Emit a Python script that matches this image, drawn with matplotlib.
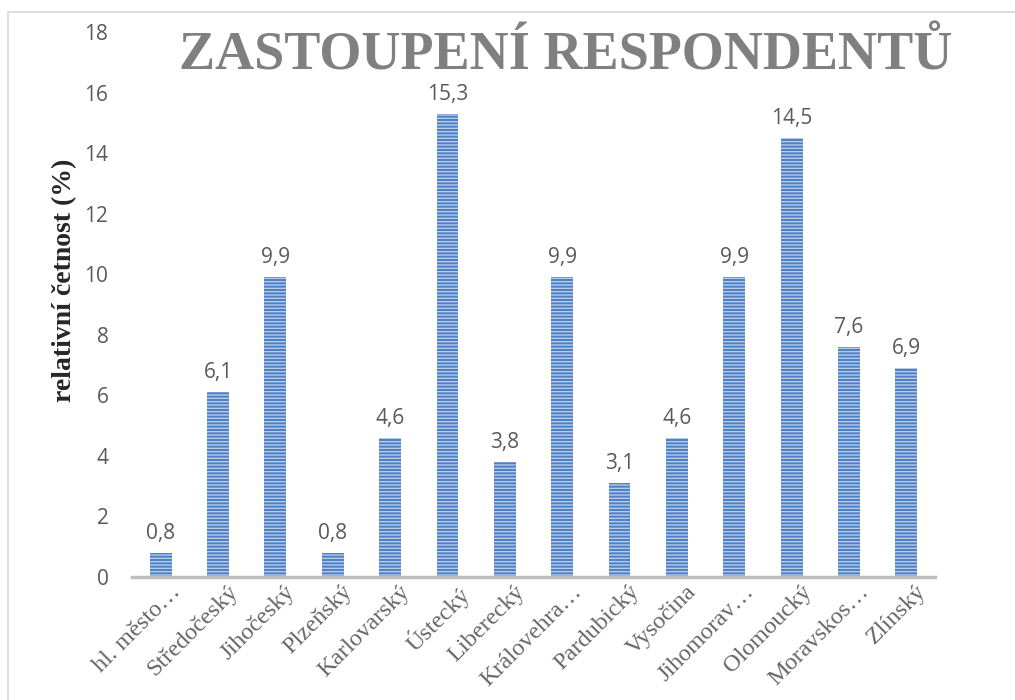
import matplotlib
matplotlib.use("Agg")
import matplotlib.pyplot as plt
import matplotlib.patches as mpatches
import matplotlib.transforms as mtrans
import numpy as np

# data
regions = ["hl. město…", "Středočeský", "Jihočeský", "Plzeňský", "Karlovarský",
           "Ústecký", "Liberecký", "Královehra…", "Pardubický", "Vysočina",
           "Jihomorav…", "Olomoucký", "Moravskos…", "Zlínský"]
values = [0.8, 6.1, 9.9, 0.8, 4.6, 15.3, 3.8, 9.9, 3.1, 4.6, 9.9, 14.5, 7.6, 6.9]
yticks = [0, 2, 4, 6, 8, 10, 12, 14, 16, 18]

# colours
C_BAR = "#4F7FC4"
C_HATCH = "#B4CBEA"
C_TEXT = "#595959"
C_AXIS = "#BFBFBF"
C_TITLE = "#808080"

plt.rcParams["hatch.linewidth"] = 1.0

fig = plt.figure(figsize=(10.15, 7.0), dpi=100)
ax = fig.add_axes([132 / 1015, 1 - 577 / 700, (935 - 132) / 1015, (577 - 32) / 700])

# outer frame of the chart area
fig.patches.append(mpatches.Rectangle((8 / 1015, -0.05), 1.2, 1 - 12 / 700 + 0.05,
                                      transform=fig.transFigure, fill=False,
                                      edgecolor="#D9D9D9", lw=1.2, zorder=0))

x = np.arange(len(regions))
ax.bar(x, values, width=0.38, color=C_BAR, edgecolor=C_HATCH,
       linewidth=0, hatch="-----", zorder=2)

for xi, v in zip(x, values):
    ax.text(xi, v + 0.3, f"{v:.1f}".replace(".", ","), ha="center", va="bottom",
            fontsize=15, color=C_TEXT, family="Open Sans")

ax.set_xlim(-0.5, len(regions) - 0.5)
ax.set_ylim(0, 18)
ax.set_yticks(yticks)
ax.set_yticklabels([str(t) for t in yticks], fontsize=15, color=C_TEXT,
                   family="Open Sans")
ax.tick_params(axis="y", length=0, pad=17)
ax.tick_params(axis="x", length=0, pad=3)
ax.set_xticks(x)
ax.set_xticklabels(regions, rotation=45, ha="right", rotation_mode="anchor",
                   fontsize=17.5, color="#666666", family="Liberation Serif")
# shift labels slightly right so their ends sit past the bar centre
offset = mtrans.ScaledTranslation(9 / 100, 0, fig.dpi_scale_trans)
for lbl in ax.get_xticklabels():
    lbl.set_transform(lbl.get_transform() + offset)

for s in ["top", "right", "left"]:
    ax.spines[s].set_visible(False)
ax.spines["bottom"].set_color(C_AXIS)
ax.spines["bottom"].set_linewidth(2.5)
ax.spines["bottom"].set_zorder(3)

ax.set_ylabel("relativní četnost (%)", fontsize=20, fontweight="bold",
              family="Liberation Serif", color="#262626")
ax.yaxis.set_label_coords(-0.068, (577 - 280) / 545)

fig.text(566 / 1015, 1 - 56 / 700, "ZASTOUPENÍ RESPONDENTŮ", ha="center",
         va="center", fontsize=39, fontweight="bold", family="Liberation Serif",
         color=C_TITLE)

fig.savefig("out.png", dpi=100, facecolor="white")
